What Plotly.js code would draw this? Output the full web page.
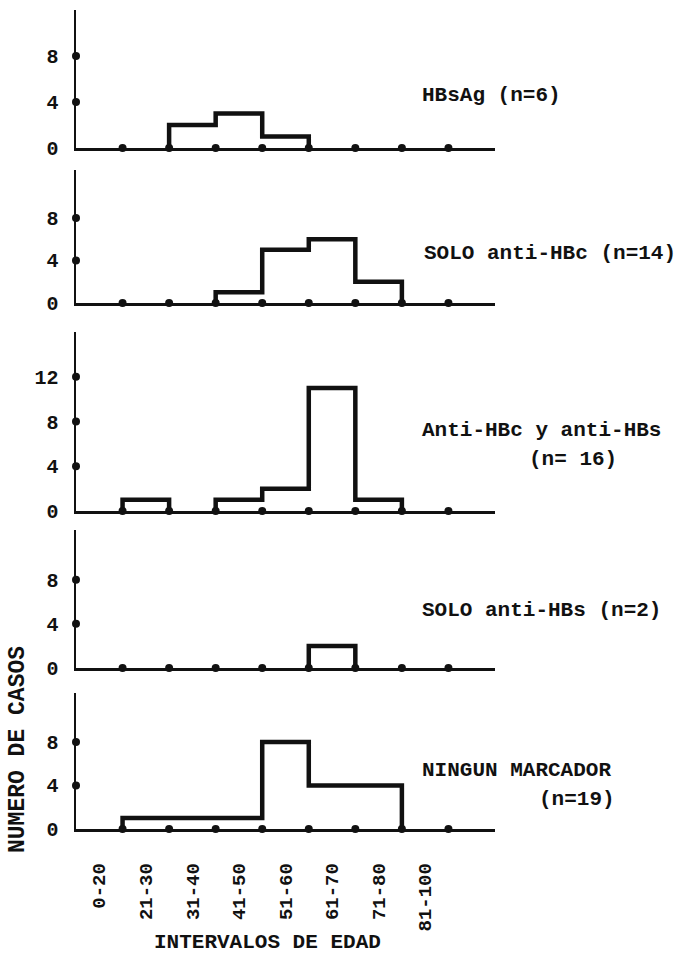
<!DOCTYPE html>
<html>
<head>
<meta charset="utf-8">
<script src="https://cdn.plot.ly/plotly-3.0.1.min.js"></script>
<style>html,body{margin:0;padding:0;background:#fff;}#chart{width:678px;height:957px;}</style>
</head>
<body>
<div id="chart"></div>
<script>
// ---- data ----
const categories = ['0-20', '21-30', '31-40', '41-50', '51-60', '61-70', '71-80', '81-100'];
const hbsag          = [0, 0, 2, 3, 1, 0, 0, 0];
const soloAntiHBc    = [0, 0, 0, 1, 5, 6, 2, 0];
const antiHBcAntiHBs = [0, 1, 0, 1, 2, 11, 1, 0];
const soloAntiHBs    = [0, 0, 0, 0, 0, 2, 0, 0];
const ningunMarcador = [0, 1, 1, 1, 8, 4, 4, 0];
const panelLabels = ['HBsAg (n=6)', 'SOLO anti-HBc (n=14)', 'Anti-HBc y anti-HBs', 'SOLO anti-HBs (n=2)', 'NINGUN MARCADOR'];
const panelSubLabels = ['', '', '(n= 16)', '', '(n=19)'];
const yTicks = [[0, 4, 8], [0, 4, 8], [0, 4, 8, 12], [0, 4, 8], [0, 4, 8]];
const yTickText = [['0', '4', '8'], ['0', '4', '8'], ['0', '4', '8', '12'], ['0', '4', '8'], ['0', '4', '8']];
const xTitle = 'INTERVALOS DE EDAD';
const yTitle = 'NUMERO DE CASOS';

const series = [hbsag, soloAntiHBc, antiHBcAntiHBs, soloAntiHBs, ningunMarcador];

// ---- layout geometry (pixels) ----
const W = 678, H = 957;
const axisLeft = 76, axisRight = 495;
const panels = [ // baseline, top (px), y max
  {base: 148, top: 10, ymax: 12},
  {base: 303, top: 170, ymax: 12.5},
  {base: 511, top: 332, ymax: 16},
  {base: 668, top: 530, ymax: 12.5},
  {base: 829, top: 693, ymax: 12.5}
];
const labelPos = [
  {x: 420, y: 95}, {x: 422, y: 253}, {x: 420, y: 430}, {x: 420, y: 610}, {x: 420, y: 770}
];
const subLabelPos = [null, null, {x: 527, y: 460}, null, {x: 537, y: 799}];

const FONT = 'Liberation Mono, Courier New, monospace';
const nBins = categories.length;

function stepPath(vals) {
  const xs = [], ys = [];
  let i = 0;
  while (i < vals.length) {
    if (vals[i] > 0) {
      xs.push(i); ys.push(0);
      while (i < vals.length && vals[i] > 0) { xs.push(i); ys.push(vals[i]); i++; }
      xs.push(i); ys.push(0);
      xs.push(null); ys.push(null);
    } else i++;
  }
  return {xs, ys};
}

const edgeX = categories.map((c, i) => i + 1);
const edgeY = categories.map(() => 0);

const traces = [];
const layout = {
  width: W, height: H,
  margin: {l: 0, r: 0, t: 0, b: 0},
  paper_bgcolor: '#fff', plot_bgcolor: '#fff',
  showlegend: false,
  font: {family: FONT, color: '#111', size: 18, weight: 'bold'},
  annotations: []
};

panels.forEach((p, k) => {
  const n = k + 1;
  const xa = 'x' + (n === 1 ? '' : n), ya = 'y' + (n === 1 ? '' : n);
  const xKey = 'xaxis' + (n === 1 ? '' : n), yKey = 'yaxis' + (n === 1 ? '' : n);
  const isLast = k === panels.length - 1;
  layout[xKey] = {
    domain: [axisLeft / W, axisRight / W],
    range: [0, nBins + 1],
    anchor: ya,
    showline: true, linewidth: 2.5, linecolor: '#111',
    showgrid: false, zeroline: false,
    ticks: '',
    tickmode: 'array',
    tickvals: categories.map((c, i) => i + 0.5),
    ticktext: categories,
    showticklabels: isLast,
    tickangle: -90,
    ticklabelstandoff: 24,
    tickfont: {family: FONT, size: 19, weight: 'bold', color: '#111'}
  };
  layout[yKey] = {
    domain: [1 - p.base / H, 1 - p.top / H],
    range: [0, p.ymax],
    anchor: xa,
    showline: true, linewidth: 2.5, linecolor: '#111',
    showgrid: false, zeroline: false,
    ticks: '',
    tickmode: 'array',
    tickvals: yTicks[k],
    ticktext: yTickText[k],
    ticklabelstandoff: 11,
    tickfont: {family: FONT, size: 20, weight: 'bold', color: '#111'}
  };
  // step histogram
  const sp = stepPath(series[k]);
  traces.push({
    type: 'scatter', mode: 'lines', x: sp.xs, y: sp.ys, xaxis: xa, yaxis: ya,
    line: {shape: 'hv', width: 4.5, color: '#111'}, connectgaps: false, hoverinfo: 'skip'
  });
  // baseline dots at interval edges
  traces.push({
    type: 'scatter', mode: 'markers', x: edgeX, y: edgeY, xaxis: xa, yaxis: ya,
    marker: {size: 8, color: '#111'}, cliponaxis: false, hoverinfo: 'skip'
  });
  // y tick dots
  const td = yTicks[k].filter(v => v > 0);
  traces.push({
    type: 'scatter', mode: 'markers', x: td.map(() => 0), y: td, xaxis: xa, yaxis: ya,
    marker: {size: 8, color: '#111'}, cliponaxis: false, hoverinfo: 'skip'
  });
  // panel labels
  layout.annotations.push({
    xref: 'paper', yref: 'paper', x: labelPos[k].x / W, y: 1 - labelPos[k].y / H,
    xanchor: 'left', yanchor: 'middle', showarrow: false, text: panelLabels[k],
    font: {family: FONT, size: 21, weight: 'bold', color: '#111'}
  });
  if (subLabelPos[k]) {
    layout.annotations.push({
      xref: 'paper', yref: 'paper', x: subLabelPos[k].x / W, y: 1 - subLabelPos[k].y / H,
      xanchor: 'left', yanchor: 'middle', showarrow: false, text: panelSubLabels[k],
      font: {family: FONT, size: 21, weight: 'bold', color: '#111'}
    });
  }
});

layout.annotations.push({
  xref: 'paper', yref: 'paper', x: 267 / W, y: 1 - 942 / H,
  xanchor: 'center', yanchor: 'middle', showarrow: false, text: xTitle,
  font: {family: FONT, size: 21, weight: 'bold', color: '#111'}
});
layout.annotations.push({
  xref: 'paper', yref: 'paper', x: 18 / W, y: 1 - 750 / H,
  xanchor: 'center', yanchor: 'middle', showarrow: false, text: yTitle, textangle: -90,
  font: {family: FONT, size: 23, weight: 'bold', color: '#111'}
});

Plotly.newPlot('chart', traces, layout, {staticPlot: true, displayModeBar: false});
</script>
</body>
</html>
